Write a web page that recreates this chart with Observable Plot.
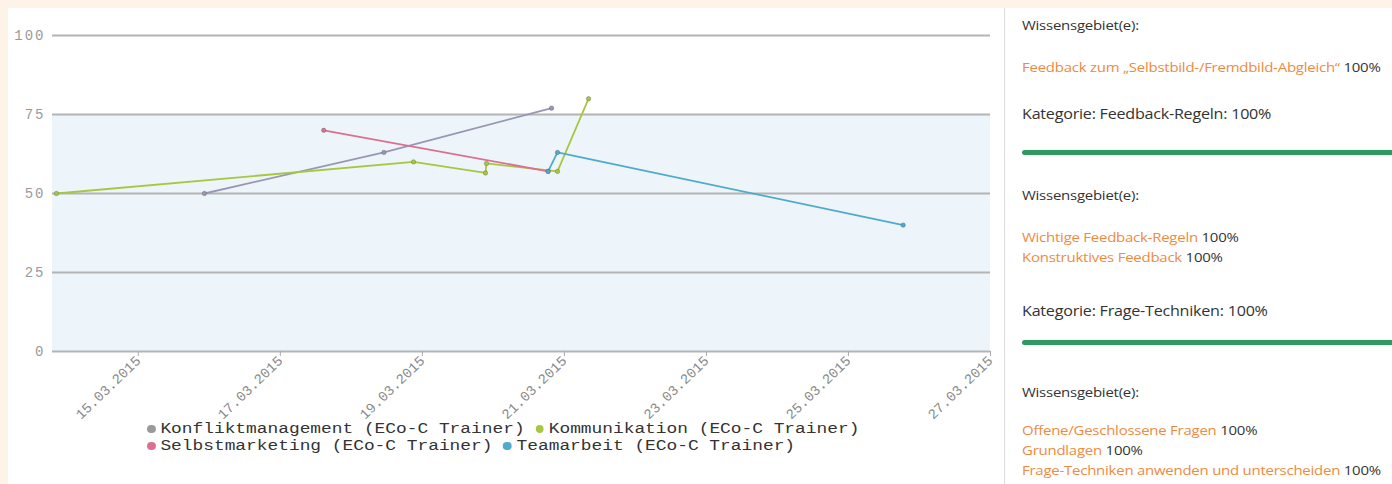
<!DOCTYPE html>
<html><head><meta charset="utf-8">
<script src="https://cdn.jsdelivr.net/npm/d3@7"></script>
<script src="https://cdn.jsdelivr.net/npm/@observablehq/plot@0.6"></script>
<style>
html,body{margin:0;padding:0;}
body{width:1392px;height:484px;background:#fdf3e7;position:relative;overflow:hidden;font-family:"Open Sans",sans-serif;}
#sheet{position:absolute;left:8px;top:8px;right:0;bottom:0;background:#fff;}
#chart{position:absolute;left:8px;top:8px;}
#legend{position:absolute;left:147px;top:421px;font-family:"Liberation Mono",monospace;font-size:14px;color:#333;line-height:17px;white-space:pre;transform:scaleX(1.275);transform-origin:0 0;}
.dot{display:inline-block;width:6.5px;height:8px;border-radius:50%;margin-right:4px;vertical-align:0px}
#panel{position:absolute;left:1004px;top:8px;right:0;bottom:0;border-left:1px solid #dcdcdc;background:#fff;}
.t{position:absolute;left:17px;font-size:13px;color:#333;white-space:nowrap;transform:translateY(-50%) scaleX(1.15);transform-origin:0 50%;letter-spacing:-0.2px}
.t.k{font-size:14px}
.o{color:#ef8a3e}
.bar{position:absolute;left:17px;right:0;height:5px;background:#2f9a60;border-radius:3px 0 0 3px}
</style>
</head><body>
<div id="sheet"></div>
<div id="chart"></div>
<div id="legend"></div>
<div id="panel"></div>
<script>
const seriesNames = ["Konfliktmanagement (ECo-C Trainer)", "Kommunikation (ECo-C Trainer)", "Selbstmarketing (ECo-C Trainer)", "Teamarbeit (ECo-C Trainer)"];
const seriesColors = ["#9a96b2", "#a9c640", "#d9718f", "#4faacb"];
const legendDotColors = ["#9a9a9a", "#a9c640", "#d9718f", "#4faacb"];

const konfliktDates = ["2015-03-15T22:20", "2015-03-18T11:00", "2015-03-20T19:40"];
const konfliktValues = [50, 63, 77];
const kommunikationDates = ["2015-03-13T20:20", "2015-03-18T21:00", "2015-03-19T21:20", "2015-03-19T21:40", "2015-03-20T21:40", "2015-03-21T08:10"];
const kommunikationValues = [50, 60, 56.5, 59.5, 57, 80];
const selbstDates = ["2015-03-17T14:40", "2015-03-20T18:30"];
const selbstValues = [70, 57];
const teamDates = ["2015-03-20T18:30", "2015-03-20T21:40", "2015-03-25T18:30"];
const teamValues = [57, 63, 40];

const xTickDates = ["2015-03-15", "2015-03-17", "2015-03-19", "2015-03-21", "2015-03-23", "2015-03-25", "2015-03-27"];
const xDomain = ["2015-03-13T19:00", "2015-03-27T00:00"];
const yTicks = [0, 25, 50, 75, 100];
const bandRange = [0, 75];

const parse = s => new Date(s + (s.length > 10 ? "Z" : "T00:00Z"));
const seriesDates = [konfliktDates, kommunikationDates, selbstDates, teamDates];
const seriesValues = [konfliktValues, kommunikationValues, selbstValues, teamValues];
const data = [];
seriesNames.forEach((name, i) => {
  seriesDates[i].forEach((d, j) => data.push({series: name, date: parse(d), value: seriesValues[i][j]}));
});

const chart = Plot.plot({
  width: 992,
  height: 430,
  marginLeft: 44,
  marginRight: 10,
  marginTop: 27,
  marginBottom: 87,
  style: {fontFamily: "'Liberation Mono', monospace", fontSize: "14px", letterSpacing: "2px", background: "transparent", color: "#999"},
  x: {type: "utc", domain: xDomain.map(parse)},
  y: {domain: [0, 100]},
  color: {domain: seriesNames, range: seriesColors},
  marks: [
    Plot.rect([{y1: bandRange[0], y2: bandRange[1]}], {y1: "y1", y2: "y2", fill: "#edf5fa"}),
    Plot.ruleY(yTicks, {stroke: "#b4b4b4", strokeWidth: 2}),
    Plot.axisY({ticks: yTicks, tickSize: 0, tickPadding: 7, label: null, fill: "#9a9a9a"}),
    Plot.axisX({ticks: xTickDates.map(parse), tickFormat: d3.utcFormat("%d.%m.%Y"), tickRotate: -44, tickSize: 5, tickPadding: 2, label: null, fill: "#8a8a8a", stroke: "#aaa"}),
    Plot.line(data, {x: "date", y: "value", z: "series", stroke: "series", strokeWidth: 1.8}),
    Plot.dot(data, {x: "date", y: "value", fill: "series", r: 2.2, stroke: "#555", strokeOpacity: 0.45, strokeWidth: 0.8})
  ]
});
const xLabels = chart.querySelector('g[aria-label="x-axis tick label"]');
if (xLabels) xLabels.style.letterSpacing = "0px";
document.getElementById("chart").appendChild(chart);

// legend
const legend = document.getElementById("legend");
const rows = [[0, 1], [2, 3]];
rows.forEach(r => {
  const line = document.createElement("div");
  r.forEach((i, k) => {
    const dot = document.createElement("span");
    dot.className = "dot";
    dot.style.background = legendDotColors[i];
    line.appendChild(dot);
    line.appendChild(document.createTextNode(seriesNames[i] + (k === 0 ? " " : "")));
  });
  legend.appendChild(line);
});

// right panel
const panelLines = [
  {y: 25, parts: [["Wissensgebiet(e):", ""]]},
  {y: 67, parts: [["Feedback zum „Selbstbild-/Fremdbild-Abgleich“", "o"], [" 100%", ""]]},
  {y: 113, k: true, parts: [["Kategorie: Feedback-Regeln: 100%", ""]]},
  {y: 195, parts: [["Wissensgebiet(e):", ""]]},
  {y: 237, parts: [["Wichtige Feedback-Regeln", "o"], [" 100%", ""]]},
  {y: 257, parts: [["Konstruktives Feedback", "o"], [" 100%", ""]]},
  {y: 310, k: true, parts: [["Kategorie: Frage-Techniken: 100%", ""]]},
  {y: 392, parts: [["Wissensgebiet(e):", ""]]},
  {y: 430, parts: [["Offene/Geschlossene Fragen", "o"], [" 100%", ""]]},
  {y: 450, parts: [["Grundlagen", "o"], [" 100%", ""]]},
  {y: 470, parts: [["Frage-Techniken anwenden und unterscheiden", "o"], [" 100%", ""]]}
];
const panelBars = [152, 342];
const panel = document.getElementById("panel");
panelLines.forEach(l => {
  const div = document.createElement("div");
  div.className = "t" + (l.k ? " k" : "");
  div.style.top = (l.y - 8) + "px";
  l.parts.forEach(([txt, cls]) => {
    const s = document.createElement("span");
    if (cls) s.className = cls;
    s.textContent = txt;
    div.appendChild(s);
  });
  panel.appendChild(div);
});
panelBars.forEach(y => {
  const b = document.createElement("div");
  b.className = "bar";
  b.style.top = (y - 8 - 2) + "px";
  panel.appendChild(b);
});
</script>
</body></html>
